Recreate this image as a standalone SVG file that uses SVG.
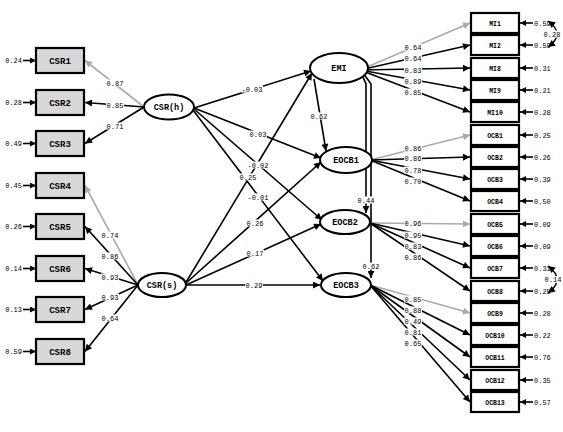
<svg xmlns="http://www.w3.org/2000/svg" width="563" height="432" viewBox="0 0 563 432">
<style>
.bg{fill:#fff}
.ob{fill:#d8d8d8;stroke:#000;stroke-width:2.2}
.obr{fill:#fff;stroke:#000;stroke-width:2.2}
.lv{fill:#fff;stroke:#000;stroke-width:2}
.t{font-family:"Liberation Mono",monospace;font-weight:bold;fill:#000;text-anchor:middle}
.bl{font-size:9px}
.rl{font-size:6.5px}
.el{font-size:8.5px}
.n{font-family:"Liberation Mono",monospace;font-size:7px;fill:#000;text-anchor:middle}
.lb{fill:#fff}
.ne{font-family:"Liberation Mono",monospace;font-size:7px;fill:#000}
.gs{opacity:0.995}
.c{stroke:#000;stroke-width:1.6;fill:none;marker-end:url(#ah)}
.g{stroke:#aaa;stroke-width:1.6;fill:none;marker-end:url(#ahg)}
.e{stroke:#000;stroke-width:1.6;fill:none;marker-end:url(#ahe)}
.cv{stroke:#000;stroke-width:1.5;fill:none;marker-start:url(#ahc);marker-end:url(#ahc)}
</style>
<defs>
<marker id="ah" viewBox="0 0 10 10" refX="10" refY="5" markerWidth="9" markerHeight="7" markerUnits="userSpaceOnUse" orient="auto"><path d="M0,0 L10,5 L0,10 z" fill="#000"/></marker>
<marker id="ahg" viewBox="0 0 10 10" refX="10" refY="5" markerWidth="9" markerHeight="7" markerUnits="userSpaceOnUse" orient="auto"><path d="M0,0 L10,5 L0,10 z" fill="#aaa"/></marker>
<marker id="ahe" viewBox="0 0 10 10" refX="10" refY="5" markerWidth="6" markerHeight="6" markerUnits="userSpaceOnUse" orient="auto"><path d="M0,0 L10,5 L0,10 z" fill="#000"/></marker>
<marker id="ahc" viewBox="0 0 10 10" refX="10" refY="5" markerWidth="8" markerHeight="7" markerUnits="userSpaceOnUse" orient="auto-start-reverse"><path d="M0,0 L10,5 L0,10 z" fill="#000"/></marker>
</defs>
<rect class="bg" x="0" y="0" width="563" height="432"/>

<g id="connectors">
<line class="g" x1="144" y1="107" x2="85" y2="60.5"/>
<line class="c" x1="144" y1="107" x2="85" y2="102.5"/>
<line class="c" x1="144" y1="107" x2="85" y2="143.5"/>
<line class="g" x1="138" y1="285" x2="85" y2="185.5"/>
<line class="c" x1="138" y1="285" x2="85" y2="226.5"/>
<line class="c" x1="138" y1="285" x2="85" y2="268.5"/>
<line class="c" x1="138" y1="285" x2="85" y2="309.5"/>
<line class="c" x1="138" y1="285" x2="85" y2="351.5"/>
<line class="c" x1="194" y1="108" x2="311" y2="71"/>
<line class="c" x1="194" y1="108" x2="321" y2="158"/>
<line class="c" x1="194" y1="109" x2="322" y2="220"/>
<line class="c" x1="193" y1="110" x2="323" y2="281"/>
<line class="c" x1="185" y1="284" x2="312" y2="73"/>
<line class="c" x1="185" y1="284" x2="321" y2="162"/>
<line class="c" x1="186" y1="285" x2="321" y2="224"/>
<line class="c" x1="186" y1="285" x2="320" y2="285"/>
<line class="c" x1="314" y1="79" x2="326" y2="151"/>
<polyline class="c" points="360,70 366,84 366,213"/>
<polyline class="c" points="361,70 371,84 371,278"/>
<line class="g" x1="360" y1="70" x2="470" y2="23"/>
<line class="c" x1="360" y1="70" x2="470" y2="45"/>
<line class="c" x1="360" y1="70" x2="470" y2="68"/>
<line class="c" x1="360" y1="70" x2="470" y2="90"/>
<line class="c" x1="360" y1="70" x2="470" y2="112"/>
<line class="g" x1="370" y1="160" x2="470" y2="135"/>
<line class="c" x1="370" y1="160" x2="470" y2="157"/>
<line class="c" x1="370" y1="160" x2="470" y2="179"/>
<line class="c" x1="370" y1="160" x2="470" y2="201"/>
<line class="g" x1="370" y1="223" x2="470" y2="224"/>
<line class="c" x1="370" y1="223" x2="470" y2="246"/>
<line class="c" x1="370" y1="223" x2="470" y2="268"/>
<line class="c" x1="370" y1="223" x2="470" y2="291"/>
<line class="g" x1="370" y1="285" x2="470" y2="313"/>
<line class="c" x1="370" y1="285" x2="470" y2="335"/>
<line class="c" x1="370" y1="285" x2="470" y2="357"/>
<line class="c" x1="370" y1="285" x2="470" y2="380"/>
<line class="c" x1="370" y1="285" x2="470" y2="402"/>
<line class="e" x1="23" y1="60.5" x2="36" y2="60.5"/>
<line class="e" x1="23" y1="102.5" x2="36" y2="102.5"/>
<line class="e" x1="23" y1="143.5" x2="36" y2="143.5"/>
<line class="e" x1="23" y1="185.5" x2="36" y2="185.5"/>
<line class="e" x1="23" y1="226.5" x2="36" y2="226.5"/>
<line class="e" x1="23" y1="268.5" x2="36" y2="268.5"/>
<line class="e" x1="23" y1="309.5" x2="36" y2="309.5"/>
<line class="e" x1="23" y1="351.5" x2="36" y2="351.5"/>
<line class="e" x1="533" y1="23" x2="520" y2="23"/>
<line class="e" x1="533" y1="45" x2="520" y2="45"/>
<line class="e" x1="533" y1="68" x2="520" y2="68"/>
<line class="e" x1="533" y1="90" x2="520" y2="90"/>
<line class="e" x1="533" y1="112" x2="520" y2="112"/>
<line class="e" x1="533" y1="135" x2="520" y2="135"/>
<line class="e" x1="533" y1="157" x2="520" y2="157"/>
<line class="e" x1="533" y1="179" x2="520" y2="179"/>
<line class="e" x1="533" y1="201" x2="520" y2="201"/>
<line class="e" x1="533" y1="224" x2="520" y2="224"/>
<line class="e" x1="533" y1="246" x2="520" y2="246"/>
<line class="e" x1="533" y1="268" x2="520" y2="268"/>
<line class="e" x1="533" y1="291" x2="520" y2="291"/>
<line class="e" x1="533" y1="313" x2="520" y2="313"/>
<line class="e" x1="533" y1="335" x2="520" y2="335"/>
<line class="e" x1="533" y1="357" x2="520" y2="357"/>
<line class="e" x1="533" y1="380" x2="520" y2="380"/>
<line class="e" x1="533" y1="402" x2="520" y2="402"/>
<path class="cv" d="M548,21 Q566,34 548,47"/>
<path class="cv" d="M548,266 Q566,279.5 548,293"/>

<g id="label-backs">
<rect class="lb" x="106" y="79.5" width="18" height="7"/>
<rect class="lb" x="106" y="101.5" width="18" height="7"/>
<rect class="lb" x="106" y="122.5" width="18" height="7"/>
<rect class="lb" x="101" y="231.5" width="18" height="7"/>
<rect class="lb" x="101" y="252.5" width="18" height="7"/>
<rect class="lb" x="101" y="273.5" width="18" height="7"/>
<rect class="lb" x="101" y="293.5" width="18" height="7"/>
<rect class="lb" x="101" y="314.5" width="18" height="7"/>
<rect class="lb" x="241" y="85.5" width="22" height="7"/>
<rect class="lb" x="249" y="130.5" width="18" height="7"/>
<rect class="lb" x="247" y="161.5" width="22" height="7"/>
<rect class="lb" x="247" y="193.5" width="22" height="7"/>
<rect class="lb" x="239" y="173.5" width="18" height="7"/>
<rect class="lb" x="246" y="219.5" width="18" height="7"/>
<rect class="lb" x="246" y="249.5" width="18" height="7"/>
<rect class="lb" x="245" y="281.5" width="18" height="7"/>
<rect class="lb" x="310" y="112.5" width="18" height="7"/>
<rect class="lb" x="357" y="196.5" width="18" height="7"/>
<rect class="lb" x="362" y="262.5" width="18" height="7"/>
<rect class="lb" x="404" y="43.5" width="18" height="7"/>
<rect class="lb" x="404" y="54.5" width="18" height="7"/>
<rect class="lb" x="404" y="66.5" width="18" height="7"/>
<rect class="lb" x="404" y="77.5" width="18" height="7"/>
<rect class="lb" x="404" y="88.5" width="18" height="7"/>
<rect class="lb" x="404" y="144.5" width="18" height="7"/>
<rect class="lb" x="404" y="154.5" width="18" height="7"/>
<rect class="lb" x="404" y="166.5" width="18" height="7"/>
<rect class="lb" x="404" y="177.5" width="18" height="7"/>
<rect class="lb" x="404" y="219.5" width="18" height="7"/>
<rect class="lb" x="404" y="231.5" width="18" height="7"/>
<rect class="lb" x="404" y="242.5" width="18" height="7"/>
<rect class="lb" x="404" y="253.5" width="18" height="7"/>
<rect class="lb" x="404" y="295.5" width="18" height="7"/>
<rect class="lb" x="404" y="306.5" width="18" height="7"/>
<rect class="lb" x="404" y="317.5" width="18" height="7"/>
<rect class="lb" x="404" y="328.5" width="18" height="7"/>
<rect class="lb" x="404" y="339.5" width="18" height="7"/>
<rect class="lb" x="543" y="30.5" width="18" height="7"/>
<rect class="lb" x="544" y="276" width="18" height="7"/>
</g>
<g id="labels" class="gs">
<text class="n" x="115" y="85.5">0.87</text>
<text class="n" x="115" y="107.5">0.85</text>
<text class="n" x="115" y="128.5">0.71</text>
<text class="n" x="110" y="237.5">0.74</text>
<text class="n" x="110" y="258.5">0.86</text>
<text class="n" x="110" y="279.5">0.93</text>
<text class="n" x="110" y="299.5">0.93</text>
<text class="n" x="110" y="320.5">0.64</text>
<text class="n" x="252" y="91.5">-0.03</text>
<text class="n" x="258" y="136.5">0.03</text>
<text class="n" x="258" y="167.5">-0.02</text>
<text class="n" x="258" y="199.5">-0.01</text>
<text class="n" x="248" y="179.5">0.25</text>
<text class="n" x="255" y="225.5">0.26</text>
<text class="n" x="255" y="255.5">0.17</text>
<text class="n" x="254" y="287.5">0.29</text>
<text class="n" x="319" y="118.5">0.62</text>
<text class="n" x="366" y="202.5">0.44</text>
<text class="n" x="371" y="268.5">0.62</text>
<text class="n" x="413" y="49.5">0.64</text>
<text class="n" x="413" y="60.5">0.64</text>
<text class="n" x="413" y="72.5">0.83</text>
<text class="n" x="413" y="83.5">0.89</text>
<text class="n" x="413" y="94.5">0.85</text>
<text class="n" x="413" y="150.5">0.86</text>
<text class="n" x="413" y="160.5">0.86</text>
<text class="n" x="413" y="172.5">0.78</text>
<text class="n" x="413" y="183.5">0.70</text>
<text class="n" x="413" y="225.5">0.96</text>
<text class="n" x="413" y="237.5">0.95</text>
<text class="n" x="413" y="248.5">0.83</text>
<text class="n" x="413" y="259.5">0.86</text>
<text class="n" x="413" y="301.5">0.85</text>
<text class="n" x="413" y="312.5">0.88</text>
<text class="n" x="413" y="323.5">0.49</text>
<text class="n" x="413" y="334.5">0.81</text>
<text class="n" x="413" y="345.5">0.65</text>
<text class="n" x="552" y="36.5">0.28</text>
<text class="n" x="553" y="282">0.14</text>
</g>
</g>

<g id="CSR1"><text class="ne" x="22" y="63" text-anchor="end">0.24</text><rect class="ob" x="36" y="48" width="48" height="25"/><text class="t bl" x="60" y="63.5">CSR1</text></g>
<g id="CSR2"><text class="ne" x="22" y="105" text-anchor="end">0.28</text><rect class="ob" x="36" y="90" width="48" height="25"/><text class="t bl" x="60" y="105.5">CSR2</text></g>
<g id="CSR3"><text class="ne" x="22" y="146" text-anchor="end">0.49</text><rect class="ob" x="36" y="131" width="48" height="25"/><text class="t bl" x="60" y="146.5">CSR3</text></g>
<g id="CSR4"><text class="ne" x="22" y="188" text-anchor="end">0.45</text><rect class="ob" x="36" y="173" width="48" height="25"/><text class="t bl" x="60" y="188.5">CSR4</text></g>
<g id="CSR5"><text class="ne" x="22" y="229" text-anchor="end">0.26</text><rect class="ob" x="36" y="214" width="48" height="25"/><text class="t bl" x="60" y="229.5">CSR5</text></g>
<g id="CSR6"><text class="ne" x="22" y="271" text-anchor="end">0.14</text><rect class="ob" x="36" y="256" width="48" height="25"/><text class="t bl" x="60" y="271.5">CSR6</text></g>
<g id="CSR7"><text class="ne" x="22" y="312" text-anchor="end">0.13</text><rect class="ob" x="36" y="297" width="48" height="25"/><text class="t bl" x="60" y="312.5">CSR7</text></g>
<g id="CSR8"><text class="ne" x="22" y="354" text-anchor="end">0.59</text><rect class="ob" x="36" y="339" width="48" height="25"/><text class="t bl" x="60" y="354.5">CSR8</text></g>

<g id="CSRh"><ellipse class="lv" cx="169" cy="107" rx="25" ry="12.5"/><text class="t el" x="169" y="110">CSR(h)</text></g>
<g id="CSRs"><ellipse class="lv" cx="162" cy="285" rx="24" ry="12"/><text class="t el" x="162" y="288">CSR(s)</text></g>
<g id="EMI"><ellipse class="lv" cx="339" cy="68" rx="29" ry="15"/><text class="t el" x="339" y="71">EMI</text></g>
<g id="EOCB1"><ellipse class="lv" cx="346" cy="160" rx="26" ry="13"/><text class="t el" x="346" y="163">EOCB1</text></g>
<g id="EOCB2"><ellipse class="lv" cx="345" cy="222" rx="25" ry="12"/><text class="t el" x="345" y="225">EOCB2</text></g>
<g id="EOCB3"><ellipse class="lv" cx="346" cy="285" rx="25" ry="12"/><text class="t el" x="346" y="288">EOCB3</text></g>

<g id="MI1" class="gs"><rect class="obr" x="471" y="13" width="48" height="20"/><text class="t rl" x="495" y="25.5">MI1</text><text class="ne" x="534" y="25.5">0.59</text></g>
<g id="MI2" class="gs"><rect class="obr" x="471" y="35" width="48" height="20"/><text class="t rl" x="495" y="47.5">MI2</text><text class="ne" x="534" y="47.5">0.59</text></g>
<g id="MI8" class="gs"><rect class="obr" x="471" y="58" width="48" height="20"/><text class="t rl" x="495" y="70.5">MI8</text><text class="ne" x="534" y="70.5">0.31</text></g>
<g id="MI9" class="gs"><rect class="obr" x="471" y="80" width="48" height="20"/><text class="t rl" x="495" y="92.5">MI9</text><text class="ne" x="534" y="92.5">0.21</text></g>
<g id="MI10" class="gs"><rect class="obr" x="471" y="102" width="48" height="20"/><text class="t rl" x="495" y="114.5">MI10</text><text class="ne" x="534" y="114.5">0.28</text></g>
<g id="OCB1" class="gs"><rect class="obr" x="471" y="125" width="48" height="20"/><text class="t rl" x="495" y="137.5">OCB1</text><text class="ne" x="534" y="137.5">0.25</text></g>
<g id="OCB2" class="gs"><rect class="obr" x="471" y="147" width="48" height="20"/><text class="t rl" x="495" y="159.5">OCB2</text><text class="ne" x="534" y="159.5">0.26</text></g>
<g id="OCB3" class="gs"><rect class="obr" x="471" y="169" width="48" height="20"/><text class="t rl" x="495" y="181.5">OCB3</text><text class="ne" x="534" y="181.5">0.39</text></g>
<g id="OCB4" class="gs"><rect class="obr" x="471" y="191" width="48" height="20"/><text class="t rl" x="495" y="203.5">OCB4</text><text class="ne" x="534" y="203.5">0.50</text></g>
<g id="OCB5" class="gs"><rect class="obr" x="471" y="214" width="48" height="20"/><text class="t rl" x="495" y="226.5">OCB5</text><text class="ne" x="534" y="226.5">0.09</text></g>
<g id="OCB6" class="gs"><rect class="obr" x="471" y="236" width="48" height="20"/><text class="t rl" x="495" y="248.5">OCB6</text><text class="ne" x="534" y="248.5">0.09</text></g>
<g id="OCB7" class="gs"><rect class="obr" x="471" y="258" width="48" height="20"/><text class="t rl" x="495" y="270.5">OCB7</text><text class="ne" x="534" y="270.5">0.31</text></g>
<g id="OCB8" class="gs"><rect class="obr" x="471" y="281" width="48" height="20"/><text class="t rl" x="495" y="293.5">OCB8</text><text class="ne" x="534" y="293.5">0.25</text></g>
<g id="OCB9" class="gs"><rect class="obr" x="471" y="303" width="48" height="20"/><text class="t rl" x="495" y="315.5">OCB9</text><text class="ne" x="534" y="315.5">0.28</text></g>
<g id="OCB10" class="gs"><rect class="obr" x="471" y="325" width="48" height="20"/><text class="t rl" x="495" y="337.5">OCB10</text><text class="ne" x="534" y="337.5">0.22</text></g>
<g id="OCB11" class="gs"><rect class="obr" x="471" y="347" width="48" height="20"/><text class="t rl" x="495" y="359.5">OCB11</text><text class="ne" x="534" y="359.5">0.76</text></g>
<g id="OCB12" class="gs"><rect class="obr" x="471" y="370" width="48" height="20"/><text class="t rl" x="495" y="382.5">OCB12</text><text class="ne" x="534" y="382.5">0.35</text></g>
<g id="OCB13" class="gs"><rect class="obr" x="471" y="392" width="48" height="20"/><text class="t rl" x="495" y="404.5">OCB13</text><text class="ne" x="534" y="404.5">0.57</text></g>
</svg>
